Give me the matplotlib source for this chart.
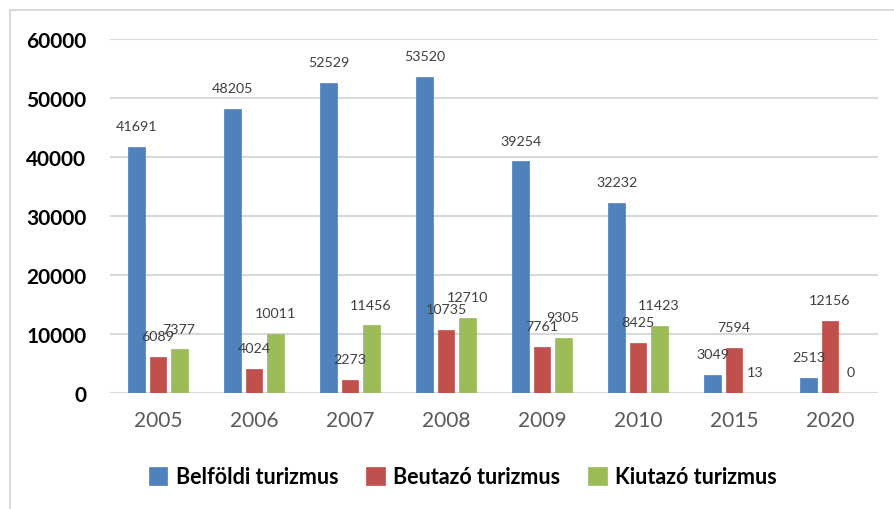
import matplotlib
matplotlib.use("Agg")
import matplotlib.pyplot as plt
from matplotlib.lines import Line2D
import numpy as np

years = ["2005", "2006", "2007", "2008", "2009", "2010", "2015", "2020"]
belfoldi = [41691, 48205, 52529, 53520, 39254, 32232, 3049, 2513]
beutazo = [6089, 4024, 2273, 10735, 7761, 8425, 7594, 12156]
kiutazo = [7377, 10011, 11456, 12710, 9305, 11423, 13, 0]
series_names = ["Belföldi turizmus", "Beutazó turizmus", "Kiutazó turizmus"]
colors = ["#4F81BD", "#C0504D", "#9BBB59"]
yticks = [0, 10000, 20000, 30000, 40000, 50000, 60000]

plt.rcParams['font.family'] = ['Lato', 'DejaVu Sans']

fig = plt.figure(figsize=(8.95, 5.10), dpi=100)
ax = fig.add_axes([110/895, 1-394/510, (878-110)/895, (394-40)/510])

x = np.arange(len(years))
width = 0.177
step = 0.22
for i, (vals, name, c) in enumerate(zip([belfoldi, beutazo, kiutazo], series_names, colors)):
    pos = x + (i - 1) * step
    ax.bar(pos, vals, width, color=c, label=name, zorder=3,
           edgecolor=c, linewidth=0.5)
    for p, v in zip(pos, vals):
        ax.annotate(str(v), (p, v), xytext=(0, 15), textcoords="offset points",
                    ha="center", va="center", fontsize=10.3, color="#404040", zorder=4)

ax.set_xlim(-0.5, len(years) - 0.5)
ax.set_ylim(0, 60000)
ax.set_yticks(yticks)
ax.set_yticklabels([str(t) for t in yticks], fontsize=15, fontweight="bold", color="black")
ax.set_xticks(x)
ax.set_xticklabels(years, fontsize=15, color="#595959")
ax.tick_params(axis="both", length=0)
ax.tick_params(axis="y", pad=17)
ax.tick_params(axis="x", pad=12)
ax.grid(axis="y", color="#D9D9D9", linewidth=1.5, zorder=0)
for s in ax.spines.values():
    s.set_visible(False)

fig.legend(loc="center", bbox_to_anchor=(463/895, 1-478/510), ncol=3, frameon=False,
           prop={"size": 15.5, "weight": "bold"}, handlelength=0.85, handleheight=0.85,
           handletextpad=0.4, columnspacing=1.3)

fig.add_artist(Line2D([10/895, 10/895], [0, 1-11/510], color="#D9D9D9", linewidth=1.5,
                      transform=fig.transFigure))
fig.add_artist(Line2D([10/895, 1], [1-11/510, 1-11/510], color="#D9D9D9", linewidth=1.5,
                      transform=fig.transFigure))

fig.savefig("out.png", dpi=100, facecolor="white")
